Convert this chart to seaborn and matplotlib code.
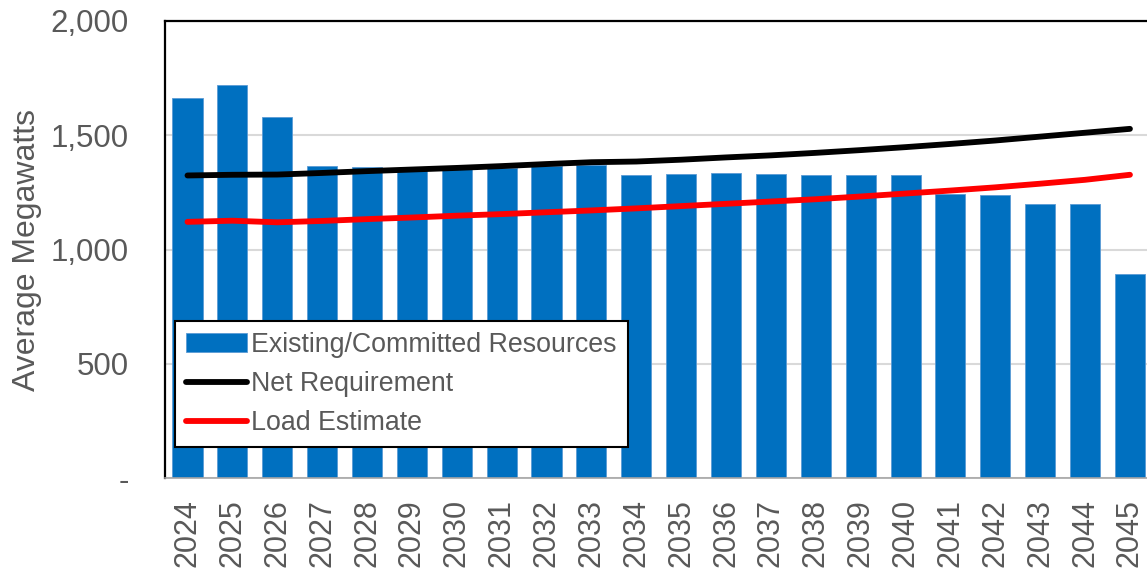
import numpy as np
import pandas as pd
import matplotlib
matplotlib.use("Agg")
import matplotlib.pyplot as plt
from matplotlib.ticker import FuncFormatter
import seaborn as sns

# Values (average megawatts)
years = [str(y) for y in range(2024, 2046)]
existing = [1665, 1719, 1579, 1367, 1360, 1350, 1352, 1358, 1365, 1370, 1327,
            1331, 1334, 1332, 1328, 1327, 1327, 1241, 1239, 1201, 1201, 895]
net_req = [1324, 1327, 1328, 1335, 1343, 1350, 1357, 1365, 1374, 1382, 1385,
           1393, 1403, 1412, 1423, 1435, 1448, 1462, 1477, 1494, 1511, 1528]
load_est = [1121, 1126, 1119, 1125, 1133, 1140, 1148, 1155, 1163, 1171, 1180,
            1190, 1200, 1210, 1220, 1232, 1245, 1258, 1272, 1288, 1305, 1327]

df = pd.DataFrame({"year": years, "existing": existing,
                   "net": net_req, "load": load_est})
df["pos"] = np.arange(len(df))

sns.set_style("white")
plt.rcParams["font.family"] = ["Liberation Sans", "DejaVu Sans"]
grey = "#595959"

fig = plt.figure(figsize=(11.47, 5.72), dpi=100)
ax = fig.add_axes([0.1439, 0.1643, 0.8561, 0.799])

ax.yaxis.grid(True, color="#d9d9d9", lw=1.5, zorder=0)
ax.set_axisbelow(True)

sns.barplot(data=df, x="year", y="existing", color="#0070C0", width=0.67,
            saturation=1, edgecolor="#5b9bd5", linewidth=0.6,
            label="Existing/Committed Resources", ax=ax, zorder=2)
sns.lineplot(data=df, x="pos", y="net", color="black", lw=4.2,
             label="Net Requirement", ax=ax, zorder=3,
             solid_capstyle="round")
sns.lineplot(data=df, x="pos", y="load", color="#ff0000", lw=4.2,
             label="Load Estimate", ax=ax, zorder=3,
             solid_capstyle="round")

ax.set_ylim(0, 2000)
ax.set_xlim(-0.5, 21.38)
ax.set_yticks([0, 500, 1000, 1500, 2000])
ax.yaxis.set_major_formatter(
    FuncFormatter(lambda v, p: "-" if v == 0 else f"{int(v):,}"))
ax.tick_params(axis="y", labelsize=22.5, colors=grey, length=0, pad=26)
ax.tick_params(axis="x", labelsize=22, colors=grey, length=0, rotation=90,
               pad=15)
ax.set_xlabel("")
ax.set_ylabel("Average Megawatts", fontsize=23, color=grey, labelpad=6)

for s in ["top", "left"]:
    ax.spines[s].set_color("black")
    ax.spines[s].set_linewidth(1.6)
ax.spines["bottom"].set_color("#a6a6a6")
ax.spines["bottom"].set_linewidth(1.2)
ax.spines["right"].set_visible(False)

handles, labels = ax.get_legend_handles_labels()
order = [labels.index("Existing/Committed Resources"),
         labels.index("Net Requirement"), labels.index("Load Estimate")]
leg = ax.legend([handles[i] for i in order], [labels[i] for i in order],
                loc="lower left", bbox_to_anchor=(0.0102, 0.0678),
                borderaxespad=0, fontsize=19.3, frameon=True, fancybox=False,
                edgecolor="black", framealpha=1, handlelength=2.3,
                handletextpad=0.15, labelspacing=0.5, borderpad=0.4)
leg.get_frame().set_linewidth(1.5)
for t in leg.get_texts():
    t.set_color(grey)

fig.savefig("out.png", dpi=100)
